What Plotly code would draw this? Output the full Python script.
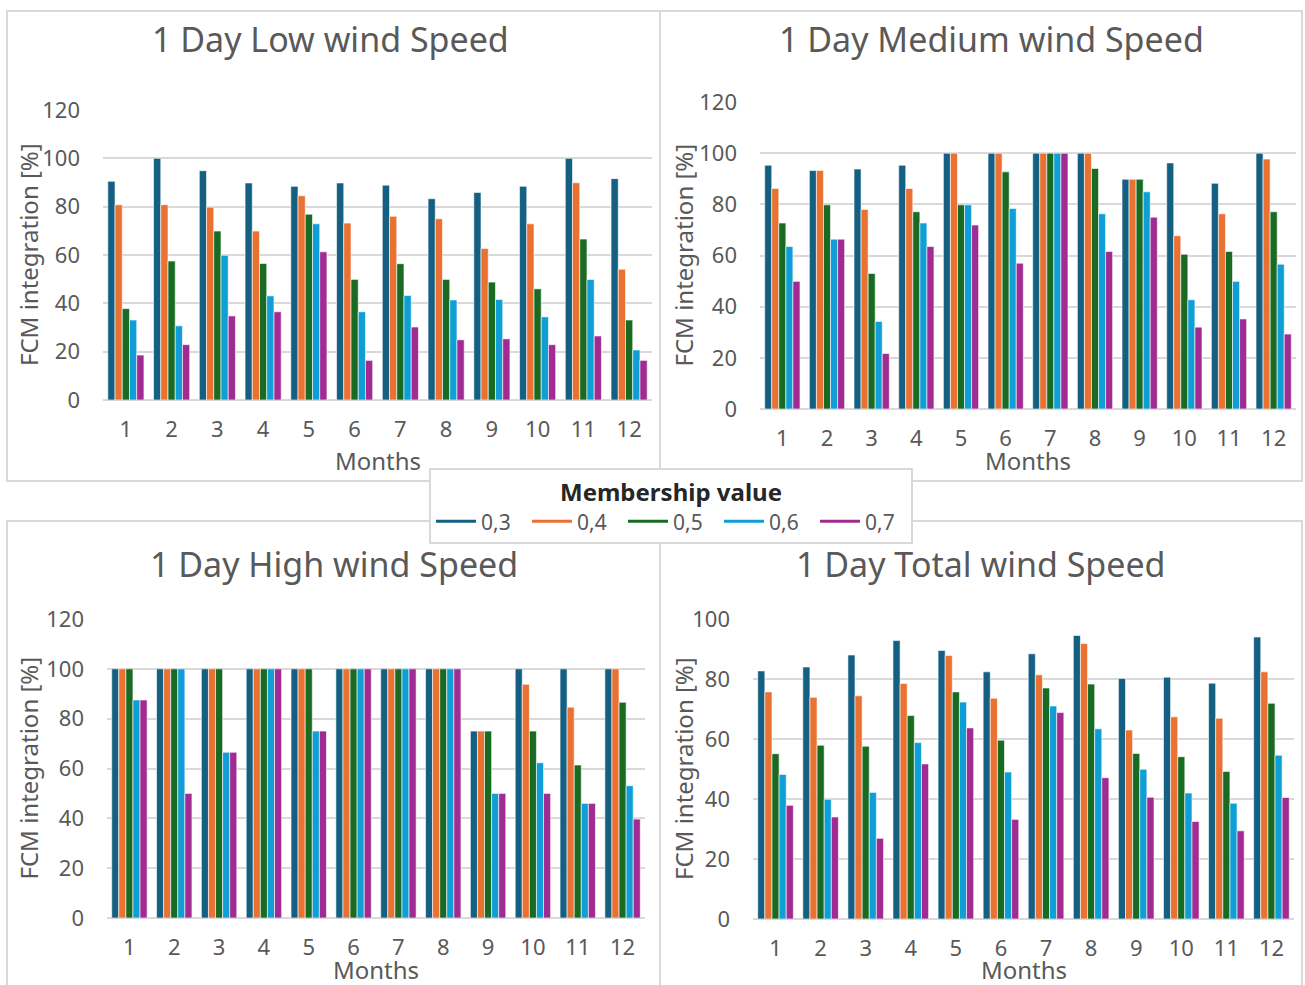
import plotly.graph_objects as go

months = [1, 2, 3, 4, 5, 6, 7, 8, 9, 10, 11, 12]
month_labels = [str(m) for m in months]
series_names = ["0,3", "0,4", "0,5", "0,6", "0,7"]
colors = ["#156082", "#E97132", "#196B24", "#0F9ED5", "#A02B93"]

low_03 = [90.5, 100, 94.9, 89.8, 88.4, 89.8, 88.9, 83.3, 85.9, 88.4, 100, 91.6]
low_04 = [80.8, 80.8, 79.8, 69.9, 84.5, 73.2, 76.0, 75.0, 62.7, 72.9, 89.9, 54.1]
low_05 = [37.8, 57.5, 69.9, 56.5, 76.9, 49.9, 56.4, 49.9, 48.8, 46.0, 66.6, 33.1]
low_06 = [33.1, 30.7, 59.9, 43.1, 72.9, 36.5, 43.2, 41.4, 41.6, 34.4, 49.9, 20.7]
low_07 = [18.6, 22.9, 34.8, 36.5, 61.3, 16.4, 30.2, 24.9, 25.3, 22.9, 26.5, 16.4]

med_03 = [95.3, 93.2, 93.8, 95.3, 100, 100, 100, 100, 89.8, 96.2, 88.2, 100]
med_04 = [86.2, 93.2, 78.0, 86.2, 100, 100, 100, 100, 89.8, 67.7, 76.3, 97.7]
med_05 = [72.7, 79.8, 53.0, 77.1, 79.8, 92.7, 100, 94.0, 89.8, 60.5, 61.6, 77.1]
med_06 = [63.5, 66.4, 34.2, 72.7, 79.8, 78.4, 100, 76.3, 84.9, 42.7, 49.9, 56.6]
med_07 = [49.9, 66.4, 21.7, 63.5, 71.9, 57.0, 100, 61.6, 75.0, 32.0, 35.2, 29.3]

high_03 = [100, 100, 100, 100, 100, 100, 100, 100, 75, 100, 100, 100]
high_04 = [100, 100, 100, 100, 100, 100, 100, 100, 75, 93.8, 84.6, 100]
high_05 = [100, 100, 100, 100, 100, 100, 100, 100, 75, 75, 61.4, 86.6]
high_06 = [87.5, 100, 66.5, 100, 75, 100, 100, 100, 50, 62.3, 46.0, 53.1]
high_07 = [87.5, 50, 66.5, 100, 75, 100, 100, 100, 50, 50, 46.0, 39.7]

tot_03 = [82.7, 84.0, 88.0, 92.8, 89.5, 82.4, 88.4, 94.5, 80.2, 80.6, 78.6, 94.0]
tot_04 = [75.7, 73.9, 74.4, 78.5, 87.8, 73.6, 81.4, 91.8, 63.0, 67.4, 66.9, 82.4]
tot_05 = [55.1, 57.9, 57.6, 67.8, 75.7, 59.6, 77.0, 78.3, 55.2, 54.1, 49.2, 71.9]
tot_06 = [48.2, 39.9, 42.2, 58.8, 72.3, 49.0, 71.0, 63.4, 49.9, 42.0, 38.6, 54.6]
tot_07 = [37.9, 34.0, 26.9, 51.7, 63.7, 33.2, 68.8, 47.1, 40.6, 32.5, 29.4, 40.5]

panels = [
    ("1 Day Low wind Speed", [low_03, low_04, low_05, low_06, low_07], [0, 120]),
    ("1 Day Medium wind Speed", [med_03, med_04, med_05, med_06, med_07], [0, 120]),
    ("1 Day High wind Speed", [high_03, high_04, high_05, high_06, high_07], [0, 120]),
    ("1 Day Total wind Speed", [tot_03, tot_04, tot_05, tot_06, tot_07], [0, 100]),
]

W, H = 1305, 985
# plot areas in pixels: (x0, x1, ytop, ybottom)
areas = [
    (103, 652, 110, 400),
    (760, 1296, 102, 409),
    (107, 645, 619, 918),
    (753, 1294, 619, 919),
]
# panel frames in pixels
frames = [
    (7, 660, 11, 481),
    (660, 1302, 11, 481),
    (7, 660, 521, 992),
    (660, 1302, 521, 992),
]
title_pos = [(330, 39), (992, 39), (334, 564), (981, 564)]
ytitle_x = [28, 683, 28, 683]
months_y = [460, 460, 969, 969]

FONT = "Noto Sans"
GRAY = "#595959"

fig = go.Figure()
layout = dict(
    width=W, height=H, autosize=False,
    margin=dict(l=0, r=0, t=0, b=0, pad=0, autoexpand=False),
    paper_bgcolor="white", plot_bgcolor="white",
    barmode="group", bargap=0.21, bargroupgap=0,
    font=dict(family=FONT, color=GRAY, size=20),
    showlegend=True,
)
annotations = []
shapes = []

for i, (title, series, yr) in enumerate(panels):
    xa = "x" if i == 0 else f"x{i+1}"
    ya = "y" if i == 0 else f"y{i+1}"
    for s, (name, col) in enumerate(zip(series_names, colors)):
        fig.add_trace(go.Bar(
            x=months, y=series[s], name=name, marker_color=col,
            marker_line=dict(color="white", width=0.6),
            xaxis=xa, yaxis=ya, showlegend=False, offsetgroup=str(s),
        ))
    x0, x1, yt, yb = areas[i]
    key = "" if i == 0 else str(i + 1)
    layout["xaxis" + key] = dict(
        domain=[x0 / W, x1 / W], anchor=ya, range=[0.5, 12.5],
        tickmode="array", tickvals=months, ticktext=month_labels,
        showgrid=False, zeroline=False, showline=False, ticks="",
        tickfont=dict(size=22, color=GRAY), ticklabelstandoff=14,
        fixedrange=True, automargin=False,
    )
    layout["yaxis" + key] = dict(
        domain=[1 - yb / H, 1 - yt / H], anchor=xa, range=yr,
        dtick=20, showgrid=True, gridcolor="#D9D9D9", gridwidth=1.5,
        zeroline=True, zerolinecolor="#D9D9D9", zerolinewidth=1.5,
        showline=False, ticks="", tickfont=dict(size=22, color=GRAY),
        ticklabelstandoff=22, fixedrange=True, automargin=False,
    )
    fx0, fx1, fy0, fy1 = frames[i]
    shapes.append(dict(type="rect", xref="paper", yref="paper",
                       x0=fx0 / W, x1=fx1 / W, y0=1 - fy1 / H, y1=1 - fy0 / H,
                       line=dict(color="#D9D9D9", width=2), layer="below"))
    tx, ty = title_pos[i]
    annotations.append(dict(text=title, x=tx / W, y=1 - ty / H, xref="paper", yref="paper",
                            showarrow=False, xanchor="center", yanchor="middle",
                            font=dict(size=34, color=GRAY, family=FONT)))
    annotations.append(dict(text="FCM integration [%]", x=ytitle_x[i] / W,
                            y=1 - ((yt + yb) / 2) / H, xref="paper", yref="paper",
                            showarrow=False, textangle=-90, xanchor="center", yanchor="middle",
                            font=dict(size=24, color=GRAY, family=FONT)))
    annotations.append(dict(text="Months", x=((x0 + x1) / 2) / W, y=1 - months_y[i] / H,
                            xref="paper", yref="paper", showarrow=False,
                            xanchor="center", yanchor="middle",
                            font=dict(size=24, color=GRAY, family=FONT)))

# legend entries (line style, as in the reference)
for name, col in zip(series_names, colors):
    fig.add_trace(go.Scatter(x=[None], y=[None], mode="lines", name=name,
                             line=dict(color=col, width=3), xaxis="x", yaxis="y"))

layout["legend"] = dict(
    orientation="h", x=671 / W, xanchor="center", y=1 - 506 / H, yanchor="middle",
    bgcolor="white", bordercolor="#D9D9D9", borderwidth=2,
    font=dict(size=21, color=GRAY, family=FONT),
    title=dict(text="<b>Membership value</b>", side="top center",
               font=dict(size=24, color="#262626", family=FONT)),
    itemwidth=40, entrywidth=41, entrywidthmode="pixels", tracegroupgap=0,
)
layout["annotations"] = annotations
layout["shapes"] = shapes
fig.update_layout(**layout)
fig.write_html("out.html")
